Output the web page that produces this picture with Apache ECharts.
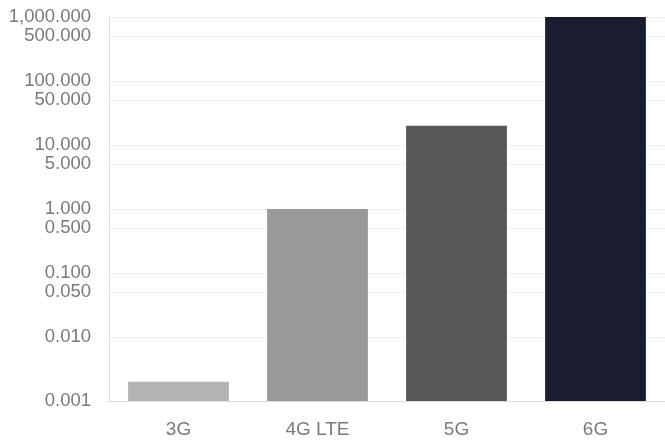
<!DOCTYPE html>
<html>
<head>
<meta charset="utf-8">
<script src="https://cdn.jsdelivr.net/npm/echarts@6/dist/echarts.min.js"></script>
<style>
  html, body { margin: 0; padding: 0; background: #ffffff; }
  #chart { width: 665px; height: 441px; }
</style>
</head>
<body>
<div id="chart"></div>
<script>
// Network generations and their peak data rates (log scale)
const generations = ['3G', '4G LTE', '5G', '6G'];
const rates = [0.002, 1, 20, 1000];
const barColors = ['#b4b4b4', '#999999', '#575757', '#1b1c32'];

// Values that get a label and a grid line on the value axis
const yTicks = [0.001, 0.01, 0.05, 0.1, 0.5, 1, 5, 10, 50, 100, 500, 1000];

function formatRate(v) {
  const parts = Number(v).toFixed(3).split('.');
  parts[0] = parts[0].replace(/\B(?=(\d{3})+(?!\d))/g, ',');
  return parts.join('.');
}

const chart = echarts.init(document.getElementById('chart'), null, { renderer: 'canvas' });

chart.setOption({
  animation: false,
  backgroundColor: '#ffffff',
  // plot area runs slightly past the right edge of the canvas
  grid: { left: 109, width: 561, top: 17, bottom: 40, containLabel: false },
  xAxis: {
    type: 'category',
    data: generations,
    axisLine: { show: true, lineStyle: { color: '#dcdcdc', width: 1 } },
    axisTick: { show: false },
    axisLabel: {
      color: '#7a7a7a',
      fontFamily: 'Liberation Sans, Arial, sans-serif',
      fontSize: 19,
      margin: 19
    },
    splitLine: { show: false }
  },
  yAxis: {
    type: 'log',
    logBase: 10,
    min: 0.001,
    max: 1000,
    // bars grow up from the bottom of the axis
    startValue: 0.001,
    axisLine: { show: true, lineStyle: { color: '#dcdcdc', width: 1 } },
    axisTick: { show: false, customValues: yTicks },
    axisLabel: {
      customValues: yTicks,
      color: '#7a7a7a',
      fontFamily: 'Liberation Sans, Arial, sans-serif',
      fontSize: 18.5,
      margin: 18,
      formatter: formatRate
    },
    splitLine: { show: true, customValues: yTicks, lineStyle: { color: '#efefef', width: 1 } },
    minorSplitLine: { show: false }
  },
  series: [{
    type: 'bar',
    barWidth: '72.5%',
    data: rates.map((v, i) => ({ value: v, itemStyle: { color: barColors[i] } }))
  }]
});
</script>
</body>
</html>
